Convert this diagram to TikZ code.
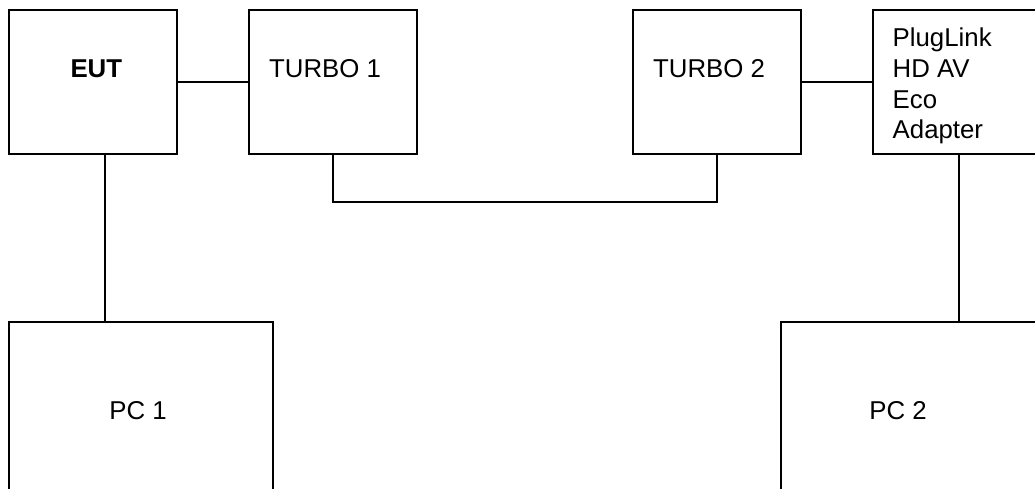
\documentclass[tikz,border=0pt]{standalone}
\usepackage{fontspec}
\setmainfont{Liberation Sans}
\begin{document}
\begin{tikzpicture}[x=1pt,y=-1pt,
  boxstyle/.style={draw=black,line width=1.5pt,anchor=north west,inner sep=0pt,outer sep=0pt},
  linkstyle/.style={draw=black,line width=1.5pt,line join=miter},
  txt/.style={font=\fontsize{25.8pt}{30.7pt}\selectfont,inner sep=0pt,text=black}]
\useasboundingbox[fill=white] (0,0) rectangle (1035,488);
\clip (0,0) rectangle (1035,488);
\node[boxstyle,minimum width=168pt,minimum height=144pt] (eut) at (9,10) {};
\node[boxstyle,minimum width=168pt,minimum height=144pt] (t1) at (249,10) {};
\node[boxstyle,minimum width=168pt,minimum height=144pt] (t2) at (633,10) {};
\node[boxstyle,minimum width=172pt,minimum height=144pt] (plug) at (873,10) {};
\node[boxstyle,minimum width=264pt,minimum height=176pt] (pc1) at (9,322) {};
\node[boxstyle,minimum width=264pt,minimum height=176pt] (pc2) at (781,322) {};
\node[txt,font=\fontsize{25.8pt}{30.7pt}\selectfont\bfseries,anchor=base] (eutl) at (96.3,77) {EUT};
\node[txt,anchor=base west] (t1l) at (269,77) {TURBO 1};
\node[txt,anchor=base west] (t2l) at (653,77) {TURBO 2};
\node[txt,anchor=west,align=left] (pl) at (892.5,86) {PlugLink\\HD AV\\Eco\\Adapter};
\node[txt,anchor=base] (p1l) at (138,419) {PC 1};
\node[txt,anchor=base] (p2l) at (898,419) {PC 2};
\draw[linkstyle] (eut.east) -- (t1.west);
\draw[linkstyle] (t2.east) -- (plug.west);
\draw[linkstyle] ([xshift=12pt]eut.south) -- ([xshift=12pt]eut.south |- pc1.north);
\draw[linkstyle] (plug.south) -- (plug.south |- pc2.north);
\coordinate (midlink) at (525,202);
\draw[linkstyle] (t1.south) |- (midlink) -| (t2.south);
\end{tikzpicture}
\end{document}
